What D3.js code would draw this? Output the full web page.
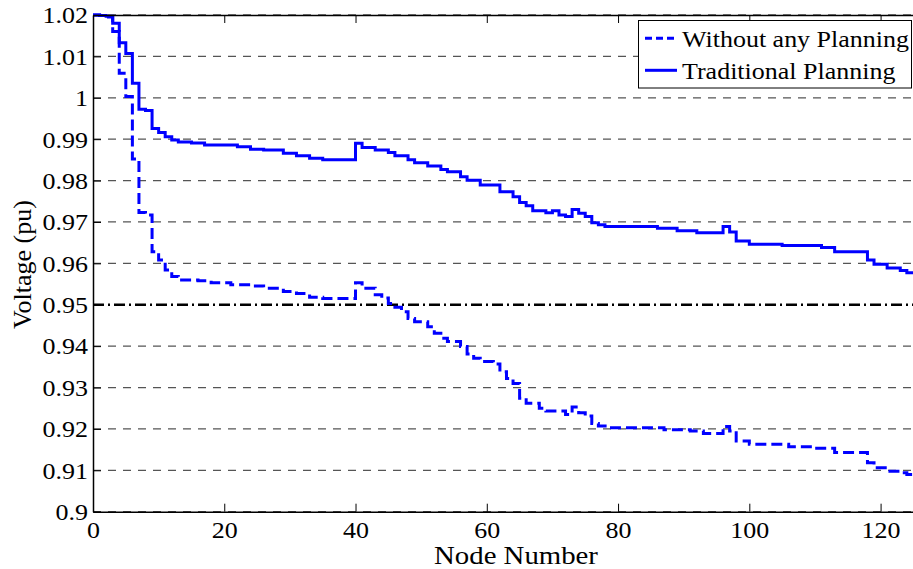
<!DOCTYPE html>
<html>
<head>
<meta charset="utf-8">
<script src="https://cdn.jsdelivr.net/npm/d3@7"></script>
<style>
  body { margin: 0; background: #fff; }
  svg { display: block; font-family: "Liberation Serif", "Times New Roman", serif; }
</style>
</head>
<body>
<svg id="chart" width="913" height="569"></svg>
<script>
// node numbers where the voltage steps, and the voltage from that node on
const baseNodes = [0, 1, 2, 3, 4, 5, 6, 7, 8, 9, 10, 11, 12, 13, 16, 18, 21, 24, 26, 29, 31, 33, 35, 40, 41, 43, 44, 45, 46, 47, 48, 49, 51, 52, 53, 54, 56, 57, 58, 59, 61, 62, 63, 64, 65, 66, 68, 69, 72, 73, 74, 75, 76, 77, 79, 87, 91, 93, 96, 97, 98, 100, 106, 110, 113, 118, 119, 121, 123, 124, 125];
const baseVolts = [1.02, 1.0199, 1.0195, 1.0160, 1.0059, 1.0003, 0.9852, 0.9723, 0.9717, 0.9628, 0.9608, 0.9584, 0.9568, 0.9560, 0.9558, 0.9553, 0.9548, 0.9545, 0.9540, 0.9532, 0.9527, 0.9518, 0.9515, 0.9553, 0.9540, 0.9524, 0.9516, 0.9503, 0.9494, 0.9483, 0.9467, 0.9459, 0.9447, 0.9431, 0.9419, 0.9411, 0.9399, 0.9381, 0.9371, 0.9363, 0.9357, 0.9338, 0.9322, 0.9310, 0.9274, 0.9262, 0.9250, 0.9243, 0.9235, 0.9253, 0.9239, 0.9231, 0.9213, 0.9207, 0.9203, 0.9198, 0.9195, 0.9189, 0.9206, 0.9195, 0.9171, 0.9163, 0.9157, 0.9153, 0.9143, 0.9118, 0.9106, 0.9098, 0.9094, 0.9090, 0.9090];

const tradNodes = [0, 1, 2, 3, 4, 5, 6, 7, 8, 9, 10, 11, 12, 13, 15, 17, 22, 24, 26, 29, 31, 33, 35, 40, 41, 43, 45, 46, 48, 49, 51, 53, 54, 56, 57, 59, 62, 64, 65, 66, 67, 69, 70, 71, 72, 73, 74, 75, 76, 77, 78, 86, 89, 92, 96, 97, 98, 100, 105, 111, 113, 118, 119, 121, 123, 124, 125];
const tradVolts = [1.02, 1.0199, 1.0197, 1.0180, 1.0133, 1.0107, 1.0035, 0.9972, 0.9969, 0.9926, 0.9916, 0.9906, 0.9898, 0.9893, 0.9891, 0.9886, 0.9882, 0.98755, 0.9874, 0.9866, 0.9860, 0.9854, 0.9850, 0.9890, 0.9880, 0.9874, 0.9868, 0.9860, 0.9850, 0.9843, 0.9835, 0.9827, 0.9821, 0.9809, 0.9801, 0.9789, 0.9773, 0.9761, 0.9747, 0.9739, 0.9727, 0.9722, 0.9727, 0.9717, 0.9713, 0.9730, 0.9721, 0.9713, 0.9698, 0.9693, 0.9689, 0.9685, 0.9679, 0.9674, 0.9689, 0.9676, 0.9654, 0.9646, 0.9643, 0.9638, 0.9628, 0.9608, 0.9598, 0.9589, 0.9583, 0.9577, 0.9577];

const xTicks = [0, 20, 40, 60, 80, 100, 120];
const yTicks = [0.9, 0.91, 0.92, 0.93, 0.94, 0.95, 0.96, 0.97, 0.98, 0.99, 1, 1.01, 1.02];
const limitVolt = 0.95;
const legendLabels = ['Without any Planning', 'Traditional Planning'];

const svg = d3.select('#chart');
const pLeft = 93, pTop = 15, pRight = 913.4, pBottom = 511.7;
const stretch = 'scale(1.13,1)'; // the source figure is slightly wider than tall

const x = d3.scaleLinear().domain([0, 125]).range([pLeft, pRight]);
const y = d3.scaleLinear().domain([0.9, 1.02]).range([pBottom, pTop]);

// horizontal grid
svg.append('g').selectAll('line').data(yTicks.filter(v => v !== limitVolt)).join('line')
    .attr('x1', pLeft).attr('x2', pRight)
    .attr('y1', d => y(d)).attr('y2', d => y(d))
    .attr('stroke', '#555').attr('stroke-width', 1.3).attr('stroke-dasharray', '8,7');

// 0.95 pu limit
svg.append('line')
    .attr('x1', pLeft).attr('x2', pRight)
    .attr('y1', y(limitVolt)).attr('y2', y(limitVolt))
    .attr('stroke', '#000').attr('stroke-width', 2.6).attr('stroke-dasharray', '11,4,2,4');

const line = d3.line().x(d => x(d[0])).y(d => y(d[1])).curve(d3.curveStepAfter);

svg.append('path').datum(d3.zip(baseNodes, baseVolts))
    .attr('fill', 'none').attr('stroke', '#0000ff').attr('stroke-width', 3)
    .attr('stroke-dasharray', '11,5').attr('d', line);

svg.append('path').datum(d3.zip(tradNodes, tradVolts))
    .attr('fill', 'none').attr('stroke', '#0000ff').attr('stroke-width', 3)
    .attr('d', line);

// axes (MATLAB style box with inward ticks)
const xAxis = svg.append('g').attr('transform', `translate(0,${pBottom})`)
    .call(d3.axisBottom(x).tickValues(xTicks).tickSizeInner(-8).tickSizeOuter(0).tickPadding(10).tickFormat(d3.format('d')));
const xTop = svg.append('g').attr('transform', `translate(0,${pTop})`)
    .call(d3.axisTop(x).tickValues(xTicks).tickSizeInner(-8).tickSizeOuter(0).tickFormat(''));
const yAxis = svg.append('g').attr('transform', `translate(${pLeft},0)`)
    .call(d3.axisLeft(y).tickValues(yTicks).tickSizeInner(-8).tickSizeOuter(0).tickPadding(4.5).tickFormat(d => String(+d.toFixed(2))));

[xAxis, xTop, yAxis].forEach(g => {
    g.attr('font-family', '"Liberation Serif", serif').attr('font-size', 23);
    g.selectAll('path').attr('stroke', '#000').attr('stroke-width', 1.5);
    g.selectAll('line').attr('stroke', '#000').attr('stroke-width', 1);
    g.selectAll('text').attr('fill', '#000').attr('transform', stretch);
});
yAxis.selectAll('text').attr('dy', '0.34em');
xAxis.selectAll('text').attr('dy', '0.71em');

svg.append('text').attr('transform', `translate(516,563.5) ${stretch}`)
    .attr('text-anchor', 'middle').style('font-size', '25.5px').text('Node Number');

svg.append('text').attr('transform', 'translate(31,264.5) rotate(-90)')
    .attr('text-anchor', 'middle').style('font-size', '26px').text('Voltage (pu)');

// legend
const lg = svg.append('g');
lg.append('rect').attr('x', 638.5).attr('y', 20.5).attr('width', 273).attr('height', 67.5)
    .attr('fill', '#fff').attr('stroke', '#000').attr('stroke-width', 1);
legendLabels.forEach((label, i) => {
    const cy = 38.3 + i * 32;
    lg.append('line').attr('x1', 645).attr('x2', 677).attr('y1', cy).attr('y2', cy)
        .attr('stroke', '#0000ff').attr('stroke-width', 3)
        .attr('stroke-dasharray', i === 0 ? '7,4' : null);
    lg.append('text').attr('transform', `translate(682,${cy + 8.8}) ${stretch}`)
        .style('font-size', '23px').text(label);
});
</script>
</body>
</html>
